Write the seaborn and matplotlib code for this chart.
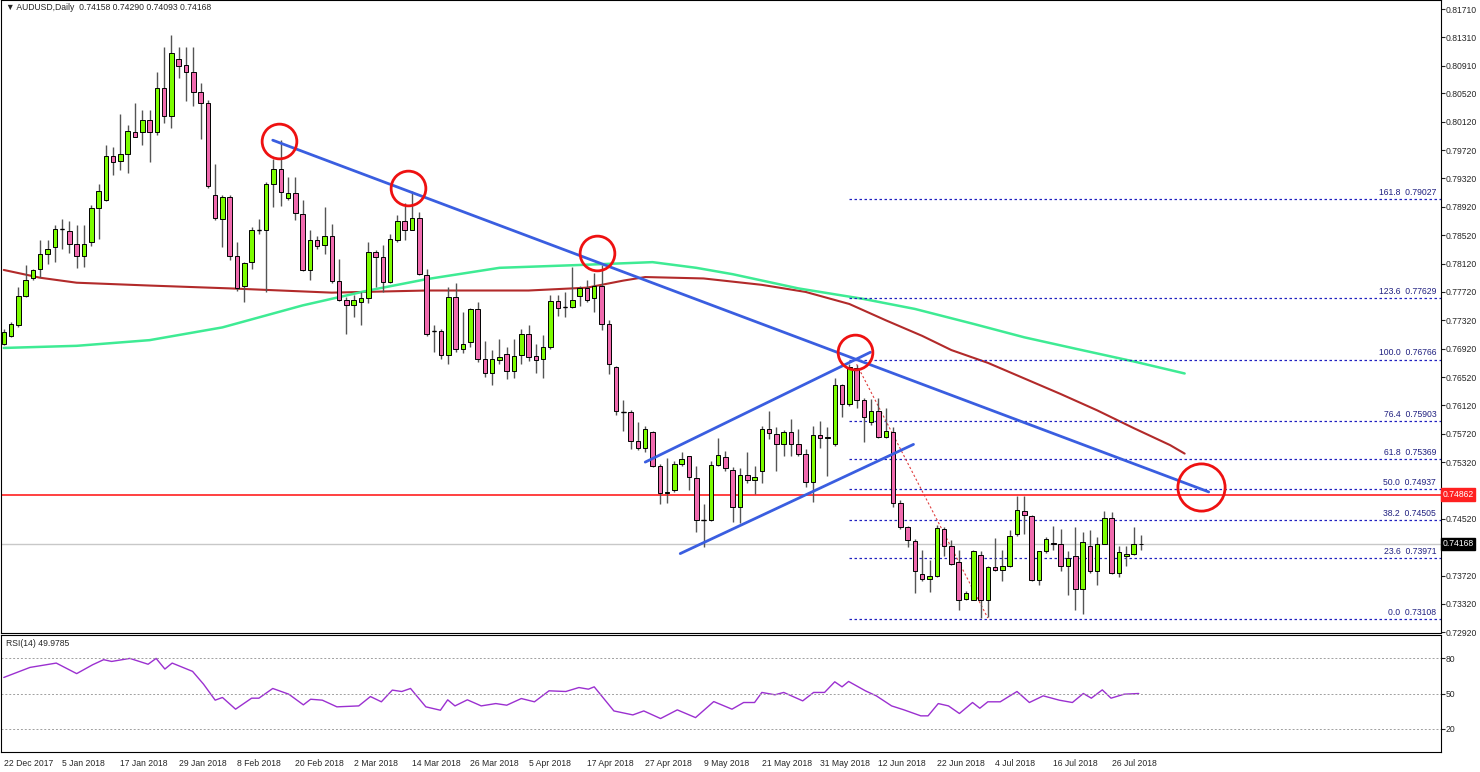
import numpy as np
import pandas as pd
import matplotlib
matplotlib.use("Agg")
import matplotlib.pyplot as plt
import seaborn as sns

# ---- candle data (O,H,L,C) ----
opens = [0.7699,0.7710,0.7725,0.7766,0.7791,0.7804,0.7825,0.7835,0.7861,0.7858,0.7840,0.7823,0.7842,0.7890,0.7901,0.7963,0.7956,0.7967,0.7998,0.7997,
 0.8015,0.7997,0.8060,0.8020,0.8100,0.8092,0.8082,0.8054,0.8038,0.7909,0.7875,0.7906,0.7822,0.7781,0.7814,0.7859,0.7859,0.7924,0.7945,0.7905,
 0.7911,0.7882,0.7803,0.7845,0.7838,0.7851,0.7788,0.7760,0.7753,0.7758,0.7763,0.7828,0.7821,0.7786,0.7845,0.7872,0.7859,0.7876,0.7796,0.7717,
 0.7717,0.7683,0.7765,0.7691,0.7702,0.7748,0.7677,0.7657,0.7676,0.7685,0.7660,0.7683,0.7713,0.7681,0.7678,0.7694,0.7759,0.7751,0.7751,0.7766,
 0.7777,0.7763,0.7781,0.7727,0.7666,0.7603,0.7602,0.7562,0.7552,0.7574,0.7527,0.7488,0.7492,0.7529,0.7540,0.7510,0.7450,0.7450,0.7528,0.7539,
 0.7521,0.7469,0.7514,0.7507,0.7519,0.7578,0.7572,0.7557,0.7574,0.7557,0.7543,0.7504,0.7570,0.7566,0.7558,0.7641,0.7614,0.7665,0.7619,0.7588,
 0.7604,0.7568,0.7574,0.7474,0.7441,0.7421,0.7374,0.7367,0.7371,0.7437,0.7413,0.7391,0.7339,0.7338,0.7401,0.7338,0.7384,0.7380,0.7385,0.7431,
 0.7463,0.7456,0.7366,0.7406,0.7418,0.7417,0.7386,0.7400,0.7353,0.7413,0.7378,0.7417,0.7453,0.7376,0.7400,0.7403,0.7416]
highs = [0.7720,0.7730,0.7779,0.7810,0.7805,0.7845,0.7845,0.7866,0.7875,0.7872,0.7866,0.7866,0.7894,0.7924,0.7979,0.7976,0.8023,0.8007,0.8039,0.8028,
 0.8028,0.8082,0.8118,0.8135,0.8118,0.8118,0.8118,0.8067,0.8043,0.7953,0.7908,0.7908,0.7843,0.7814,0.7864,0.7875,0.7927,0.7960,0.7986,0.7934,
 0.7934,0.7901,0.7860,0.7851,0.7892,0.7868,0.7818,0.7765,0.7767,0.7772,0.7842,0.7831,0.7838,0.7854,0.7880,0.7897,0.7915,0.7885,0.7804,0.7725,
 0.7720,0.7779,0.7784,0.7744,0.7750,0.7758,0.7703,0.7690,0.7706,0.7695,0.7706,0.7720,0.7725,0.7698,0.7711,0.7767,0.7767,0.7772,0.7807,0.7780,
 0.7789,0.7798,0.7810,0.7732,0.7668,0.7620,0.7605,0.7588,0.7583,0.7576,0.7530,0.7538,0.7534,0.7546,0.7541,0.7527,0.7473,0.7534,0.7566,0.7548,
 0.7525,0.7523,0.7546,0.7527,0.7583,0.7604,0.7582,0.7577,0.7593,0.7579,0.7551,0.7583,0.7590,0.7582,0.7651,0.7642,0.7670,0.7669,0.7623,0.7621,
 0.7623,0.7608,0.7581,0.7479,0.7442,0.7423,0.7408,0.7394,0.7443,0.7441,0.7422,0.7408,0.7350,0.7408,0.7406,0.7385,0.7425,0.7408,0.7436,0.7484,
 0.7484,0.7457,0.7406,0.7426,0.7442,0.7437,0.7406,0.7441,0.7434,0.7436,0.7427,0.7463,0.7462,0.7413,0.7413,0.7441,0.7429]
lows = [0.7697,0.7709,0.7723,0.7765,0.7789,0.7793,0.7812,0.7814,0.7833,0.7827,0.7806,0.7807,0.7837,0.7847,0.7900,0.7937,0.7944,0.7940,0.7990,0.7979,
 0.7955,0.7993,0.8010,0.8003,0.8073,0.8041,0.8034,0.7987,0.7919,0.7874,0.7835,0.7817,0.7774,0.7758,0.7804,0.7854,0.7772,0.7892,0.7893,0.7901,
 0.7873,0.7802,0.7789,0.7832,0.7826,0.7785,0.7759,0.7712,0.7737,0.7725,0.7756,0.7779,0.7772,0.7784,0.7843,0.7845,0.7859,0.7796,0.7710,0.7687,
 0.7678,0.7671,0.7687,0.7686,0.7695,0.7673,0.7652,0.7641,0.7671,0.7649,0.7651,0.7671,0.7674,0.7657,0.7651,0.7692,0.7738,0.7737,0.7750,0.7752,
 0.7758,0.7743,0.7718,0.7656,0.7599,0.7576,0.7551,0.7549,0.7546,0.7525,0.7473,0.7475,0.7490,0.7527,0.7493,0.7434,0.7412,0.7449,0.7527,0.7520,
 0.7448,0.7446,0.7502,0.7487,0.7502,0.7565,0.7520,0.7540,0.7541,0.7540,0.7497,0.7476,0.7552,0.7513,0.7555,0.7595,0.7611,0.7609,0.7561,0.7585,
 0.7566,0.7566,0.7469,0.7438,0.7412,0.7348,0.7365,0.7349,0.7370,0.7399,0.7387,0.7324,0.7337,0.7337,0.7312,0.7314,0.7378,0.7364,0.7384,0.7428,
 0.7431,0.7364,0.7359,0.7404,0.7408,0.7378,0.7345,0.7323,0.7318,0.7376,0.7359,0.7416,0.7374,0.7370,0.7385,0.7401,0.7408]
closes = [0.7716,0.7727,0.7766,0.7789,0.7803,0.7825,0.7833,0.7861,0.7861,0.7839,0.7823,0.7840,0.7890,0.7914,0.7963,0.7955,0.7967,0.7999,0.7991,0.8015,
 0.7997,0.8060,0.8020,0.8109,0.8091,0.8082,0.8054,0.8038,0.7922,0.7876,0.7906,0.7822,0.7777,0.7813,0.7859,0.7859,0.7924,0.7945,0.7913,0.7911,
 0.7883,0.7803,0.7845,0.7837,0.7851,0.7788,0.7760,0.7753,0.7761,0.7763,0.7828,0.7821,0.7786,0.7846,0.7872,0.7859,0.7876,0.7797,0.7712,0.7717,
 0.7683,0.7765,0.7691,0.7699,0.7748,0.7677,0.7658,0.7677,0.7680,0.7660,0.7681,0.7713,0.7680,0.7676,0.7695,0.7759,0.7749,0.7751,0.7760,0.7777,
 0.7761,0.7781,0.7727,0.7670,0.7604,0.7603,0.7562,0.7552,0.7578,0.7527,0.7488,0.7490,0.7530,0.7537,0.7511,0.7450,0.7450,0.7528,0.7542,0.7523,
 0.7469,0.7514,0.7507,0.7511,0.7578,0.7573,0.7558,0.7574,0.7558,0.7543,0.7504,0.7570,0.7566,0.7568,0.7641,0.7614,0.7666,0.7619,0.7596,0.7604,
 0.7568,0.7576,0.7474,0.7441,0.7422,0.7378,0.7367,0.7371,0.7439,0.7414,0.7389,0.7338,0.7347,0.7406,0.7338,0.7384,0.7380,0.7385,0.7428,0.7464,
 0.7457,0.7366,0.7406,0.7423,0.7416,0.7386,0.7397,0.7353,0.7419,0.7378,0.7417,0.7453,0.7375,0.7405,0.7403,0.7416,0.7417]

# moving averages (sampled at bar index)
ma_red_idx = [0, 5, 10, 20, 31, 45, 58, 72, 80, 85, 88, 96, 104, 110, 116, 121, 126, 130, 135, 140, 145, 150, 155, 160, 162]
ma_red_val = [0.7803, 0.7792, 0.7785, 0.7781, 0.7777, 0.7771, 0.7774, 0.7774, 0.7778, 0.7788, 0.7793, 0.7791, 0.7782,
              0.7772, 0.7755, 0.7732, 0.7710, 0.7690, 0.7672, 0.7650, 0.7628, 0.7605, 0.7580, 0.7556, 0.7544]
ma_grn_idx = [0, 10, 20, 30, 41, 50, 58, 68, 79, 89, 95, 100, 109, 118, 125, 133, 140, 147, 155, 162]
ma_grn_val = [0.7693, 0.7696, 0.7704, 0.7722, 0.7753, 0.7774, 0.7790, 0.7806, 0.7810, 0.7814, 0.7806, 0.7797, 0.7777,
              0.7762, 0.7748, 0.7727, 0.7708, 0.7692, 0.7674, 0.7657]

# RSI(14)
rsi_idx = [0,3.6,7.2,10,12.2,13.7,14.8,17.3,19.8,20.9,22.1,23.1,25.9,27.4,29,30,31.8,34,35,36.9,39.1,41.1,42.1,43.7,45.7,48.7,
           50.3,51.8,53.3,54.6,55.8,57.9,59.9,60.9,61.9,63.6,65.5,67.5,69,71,72.8,74.8,77.1,78.9,80.2,81,83.7,86.3,87.8,90.1,
           92.4,94.9,97.4,99.9,101.5,103,104,105.8,107,109.6,111.1,112.6,114,115,115.9,118.2,119.7,121.8,123.5,125.8,126.8,
           128.2,129.6,131.1,132.9,133.9,135,136.7,139,140.7,142.6,144.8,146.6,148.1,149.2,150.7,151.9,153.7,155.7]
rsi_val = [63.7,72.3,76,67,74.6,78.9,77.4,80,75,80,70.9,76,68.9,58,44.3,46.6,36.6,46,46,54.3,49.4,40.3,45.1,44.3,38.6,39.4,
           47.4,42.9,52.9,51.7,54.3,38.6,35.7,44.6,39.4,44.6,39.4,41.4,40,45.7,42.9,52.3,51.7,55.1,53.7,55.7,35.1,31.7,35.1,28.6,
           36,29.4,43.1,36.6,42.3,42.3,50.9,48.9,50.9,43.7,50.9,50.9,60,55.7,60.3,52.3,48,39.4,36,30.9,30.9,
           41.4,39.4,32.9,42.3,37.4,42.9,42.9,51.7,42.3,48,44.3,42.3,50,46,53.1,46,49.4,50]

fib_pct = ["161.8", "123.6", "100.0", "76.4", "61.8", "50.0", "38.2", "23.6", "0.0"]
fib_val = [0.79027, 0.77629, 0.76766, 0.75903, 0.75369, 0.74937, 0.74505, 0.73971, 0.73108]

ytick_vals = [0.81710,0.81310,0.80910,0.80520,0.80120,0.79720,0.79320,0.78920,0.78520,0.78120,0.77720,
              0.77320,0.76920,0.76520,0.76120,0.75720,0.75320,0.74520,0.73720,0.73320,0.72920]
date_labels = ["22 Dec 2017","5 Jan 2018","17 Jan 2018","29 Jan 2018","8 Feb 2018","20 Feb 2018","2 Mar 2018",
               "14 Mar 2018","26 Mar 2018","5 Apr 2018","17 Apr 2018","27 Apr 2018","9 May 2018","21 May 2018",
               "31 May 2018","12 Jun 2018","22 Jun 2018","4 Jul 2018","16 Jul 2018","26 Jul 2018"]
date_pos = [0,8,16,24,32,40,48,56,64,72,80,88,96,104,112,120,128,136,144,152]

trend_x = [36.9, 165.3]; trend_y = [0.7986, 0.7490]
chan_up_x = [88.0, 118.9]; chan_up_y = [0.7532, 0.7687]
chan_lo_x = [92.8, 124.8]; chan_lo_y = [0.7403, 0.7557]
circ_x = [37.8, 55.4, 81.4, 116.8]; circ_y = [0.7985, 0.7918, 0.7827, 0.7687]
big_circ_x = [164.2]; big_circ_y = [0.7497]
resist = 0.74862
last_price = 0.74168

sns.set_style("white")
plt.rcParams['font.family'] = ['Liberation Sans', 'DejaVu Sans']
FS = 6.2

df = pd.DataFrame({"o": opens, "h": highs, "l": lows, "c": closes})
df["i"] = np.arange(len(df))
up = df[df.c >= df.o]; dn = df[df.c < df.o]

fig = plt.figure(figsize=(14.8, 7.72), dpi=100)
W, H = 1480, 772
ax = fig.add_axes([0.5/W, (H-633)/H, 1440/W, 633/H])
ar = fig.add_axes([0.5/W, (H-752)/H, 1440/W, 117/H])
xl = (-0.45, 197.1)

ax.vlines(df.i, df.l, df.h, color="#555555", lw=1.0, zorder=3)
ax.bar(up.i, up.c - up.o, bottom=up.o, width=0.62, color="#7CFC00", edgecolor="black", lw=0.7, zorder=4)
ax.bar(dn.i, dn.o - dn.c, bottom=dn.c, width=0.62, color="#F06AAE", edgecolor="black", lw=0.7, zorder=4)
doj = df[(df.c - df.o).abs() < 0.00005]
ax.hlines((doj.o+doj.c)/2, doj.i-0.3, doj.i+0.3, color="black", lw=1, zorder=5)

sns.lineplot(x=ma_red_idx, y=ma_red_val, ax=ax, color="#B22A2A", lw=1.5, zorder=2)
sns.lineplot(x=ma_grn_idx, y=ma_grn_val, ax=ax, color="#3EEB94", lw=1.8, zorder=2)

ax.axhline(resist, color="#FF2020", lw=1.2, zorder=2)
ax.axhline(last_price, color="#C8C8C8", lw=1.0, zorder=1)
for p, v in zip(fib_pct, fib_val):
    ax.hlines(v, 115.9, xl[1], color="#2020C0", lw=0.9, linestyles=(0, (2, 2)), zorder=2)
    ax.text(xl[1]-0.6, v+0.0003, f"{p}  {v:.5f}", ha="right", va="bottom", fontsize=FS, color="#202080")
ax.plot([117, 135], [0.7670, 0.7312], color="#E04040", lw=0.8, ls=(0, (2, 2)), zorder=2)

ax.plot(trend_x, trend_y, color="#3A5EE0", lw=2, zorder=6)
ax.plot(chan_up_x, chan_up_y, color="#3A5EE0", lw=2, zorder=6)
ax.plot(chan_lo_x, chan_lo_y, color="#3A5EE0", lw=2, zorder=6)
ax.plot(circ_x, circ_y, "o", ms=25, mfc="none", mec="#EE1111", mew=2, zorder=7)
ax.plot(big_circ_x, big_circ_y, "o", ms=34, mfc="none", mec="#EE1111", mew=2, zorder=7)

ax.set_xlim(*xl); ax.set_ylim(0.72910, 0.81837)
ax.yaxis.tick_right()
ax.set_yticks(ytick_vals)
ax.set_yticklabels([f"{v:.5f}" for v in ytick_vals], fontsize=FS)
ax.tick_params(axis="y", length=3, pad=1)
ax.set_xticks([])
for s in ax.spines.values():
    s.set_color("black"); s.set_linewidth(0.8)
for lbl, v, fc in [(f"{resist:.5f}", resist, "#FF2020"), (f"{last_price:.5f}", last_price, "black")]:
    ax.text(1.0012, v, lbl, transform=ax.get_yaxis_transform(), fontsize=FS, color="white",
            va="center", ha="left", bbox=dict(boxstyle="square,pad=0.2", fc=fc, ec=fc))
ax.text(0.004, 0.995, "▼ AUDUSD,Daily  0.74158 0.74290 0.74093 0.74168", transform=ax.transAxes,
        fontsize=FS, va="top", ha="left")

sns.lineplot(x=rsi_idx, y=rsi_val, ax=ar, color="#9B30D0", lw=1)
for lv in [80, 50, 20]:
    ar.axhline(lv, color="#A0A0A0", lw=0.7, ls=(0, (2, 2)))
ar.set_xlim(*xl); ar.set_ylim(0, 100)
ar.yaxis.tick_right()
ar.set_yticks([80, 50, 20]); ar.set_yticklabels(["80", "50", "20"], fontsize=FS)
ar.tick_params(axis="y", length=3, pad=1)
ar.set_xticks(date_pos)
ar.set_xticklabels(date_labels, fontsize=FS, ha="left")
ar.tick_params(axis="x", length=3, pad=2)
for s in ar.spines.values():
    s.set_color("black"); s.set_linewidth(0.8)
ar.text(0.004, 0.97, "RSI(14) 49.9785", transform=ar.transAxes, fontsize=FS, va="top", ha="left")
ar.set_xlabel(""); ar.set_ylabel(""); ax.set_xlabel(""); ax.set_ylabel("")

fig.savefig("out.png", dpi=100, facecolor="white")
